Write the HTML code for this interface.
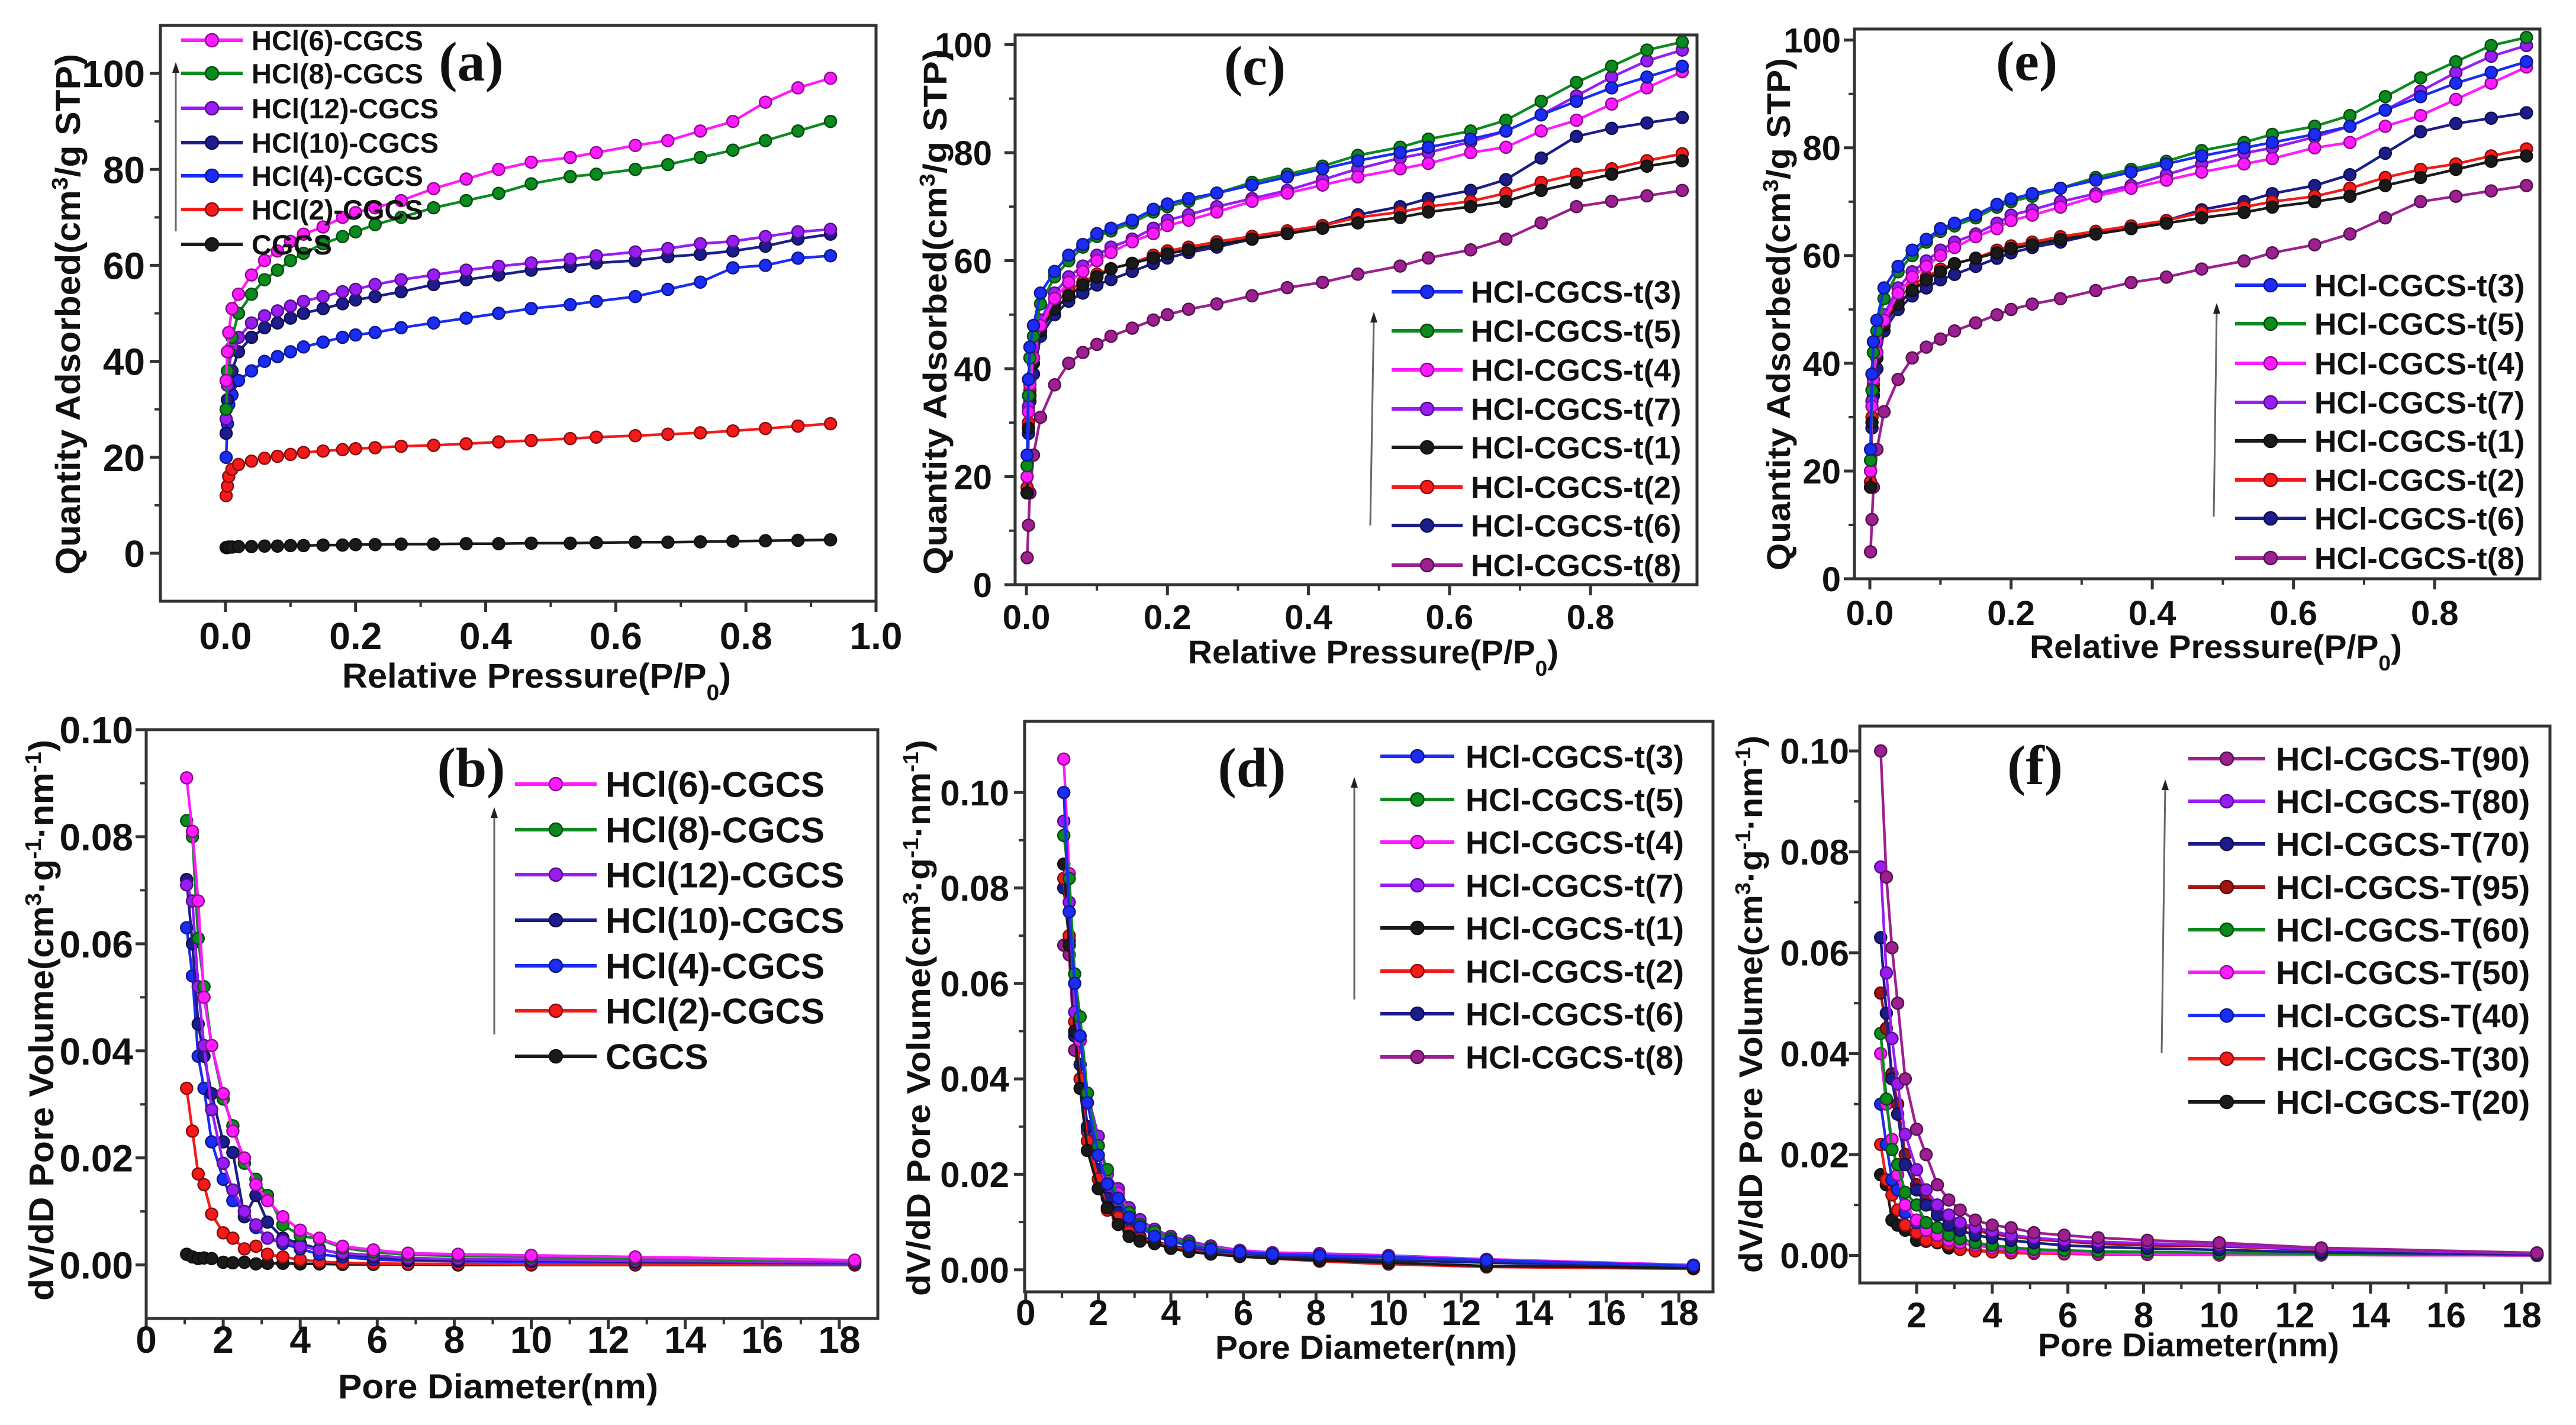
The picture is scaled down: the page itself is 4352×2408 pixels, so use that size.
<!DOCTYPE html>
<html><head><meta charset="utf-8"><style>
html,body{margin:0;padding:0;background:#fff;overflow:hidden;}
svg{display:block;font-family:"Liberation Sans",Arial,sans-serif;}
</style></head><body>
<svg id="fig" xmlns="http://www.w3.org/2000/svg" width="4352" height="2408" viewBox="0 0 4352 2408"></svg>
<script>
// ---------- DATA ----------
const P = [0.001,0.003,0.005,0.01,0.02,0.04,0.06,0.08,0.1,0.12,0.15,0.18,0.2,0.23,0.27,0.32,0.37,0.42,0.47,0.53,0.57,0.63,0.68,0.73,0.78,0.83,0.88,0.93];
const D = [1.05,1.2,1.35,1.5,1.7,2.0,2.25,2.55,2.85,3.15,3.55,4.0,4.5,5.1,5.9,6.8,8.1,10,12.7,18.4];

// panel (a)
const aNames = ["HCl(6)-CGCS","HCl(8)-CGCS","HCl(12)-CGCS","HCl(10)-CGCS","HCl(4)-CGCS","HCl(2)-CGCS","CGCS"];
const aHCl6 = [36,42,46,51,54,58,61,63,65,66.5,68,70,71,72,73.5,76,78,80,81.5,82.5,83.5,85,86,88,90,94,97,99];
const aHCl8 = [30,38,42,45,50,54,57,59,61,62.5,64.5,66,67,68.5,70,72,73.5,75,77,78.5,79,80,81,82.5,84,86,88,90];
const aHCl12 = [28,35,38,43,45,48,49.5,50.5,51.5,52.5,53.5,54.5,55,56,57,58,59,59.8,60.5,61.3,62,62.8,63.5,64.5,65,66,67,67.5];
const aHCl10 = [25,32,35,38,42,45,47,48,49,50,51,52,52.8,53.5,54.5,56,57,58,59,59.8,60.5,61,61.8,62.3,63,64,65.5,66.5];
const aHCl4 = [20,27,31,33,36,38,40,41,42,43,44,45,45.5,46,47,48,49,50,51,51.8,52.5,53.5,55,56.5,59.5,60,61.5,62];
const aHCl2 = [12,14,16,17.5,18.5,19.2,19.8,20.2,20.6,21,21.3,21.6,21.8,22,22.3,22.5,22.8,23.2,23.5,23.9,24.2,24.5,24.8,25.1,25.5,26,26.5,27];
const aCGCS = [1.2,1.2,1.3,1.3,1.4,1.4,1.5,1.5,1.6,1.6,1.7,1.7,1.8,1.8,1.9,1.9,2.0,2.0,2.1,2.1,2.2,2.3,2.3,2.4,2.5,2.6,2.7,2.8];

// panel (b)
const bHCl6 = [.091,.081,.068,.050,.041,.032,.025,.020,.015,.012,.009,.0065,.005,.0035,.0028,.0022,.002,.0018,.0015,.0009];
const bHCl8 = [.083,.080,.061,.052,.041,.031,.026,.019,.016,.013,.0075,.0055,.0048,.0032,.0024,.0019,.0017,.0015,.0012,.0007];
const bHCl12 = [.071,.068,.052,.041,.029,.019,.014,.010,.0075,.005,.0045,.0035,.0028,.0022,.0018,.0013,.0011,.001,.0008,.0005];
const bHCl10 = [.072,.060,.045,.039,.032,.023,.021,.009,.013,.008,.005,.004,.003,.002,.0015,.001,.0009,.0008,.0006,.0004];
const bHCl4 = [.063,.054,.039,.033,.023,.016,.012,.010,.007,.005,.004,.003,.002,.0015,.001,.0008,.0007,.0006,.0005,.0003];
const bHCl2 = [.033,.025,.017,.015,.0095,.006,.005,.003,.0035,.002,.0015,.001,.0006,.0004,.0003,.0002,.0002,.0001,.0001,.0001];
const bCGCS = [.002,.0015,.0012,.0013,.0012,.0005,.0004,.0005,.0002,.0003,.0003,.0002,.0002,.0001,.0001,.0001,0,0,0,0];

// panels (c)/(e)
const tNames = ["HCl-CGCS-t(3)","HCl-CGCS-t(5)","HCl-CGCS-t(4)","HCl-CGCS-t(7)","HCl-CGCS-t(1)","HCl-CGCS-t(2)","HCl-CGCS-t(6)","HCl-CGCS-t(8)"];
const cT3 = [24,38,44,48,54,58,61,63,65,66,67.5,69.5,70.5,71.5,72.5,74,75.5,77,78.5,80,81,82.5,84,87,89.5,92,94,96];
const cT5 = [22,35,42,46,52,57,60,62.5,64.5,65.5,67,69,70,71,72.5,74.5,76,77.5,79.5,81,82.5,84,86,89.5,93,96,99,100.5];
const cT4 = [20,32,37,42,48,53,56,58,60,61.5,63.5,65,66.5,67.5,69,71,72.5,74,75.5,77,78,80,81,84,86,89,92,95];
const cT7 = [20,33,38,44,49,54,57,59,61,62.5,64,66,67.5,68.5,70,71.5,73,75,77,79,80,82,84,87,90.5,94,97,99];
const cT1 = [17,29,35,41,47,51,53.5,55.5,57,58.5,59.5,60.5,61.3,62,63,64,65,66,67,68,69,70,71,73,74.5,76,77.5,78.5];
const cT2 = [18,30,36,42,47,52,54.5,56,57.5,58.5,59.5,61,61.8,62.5,63.5,64.5,65.5,66.5,68,69,70,71,72.5,74.5,76,77,78.5,79.8];
const cT6 = [17,28,34,39,46,50,52.5,54,55.5,56.5,58,59.5,60.5,61.5,62.5,64,65,66.5,68.5,70,71.5,73,75,79,83,84.5,85.5,86.5];
const cT8 = [5,11,17,24,31,37,41,43,44.5,46,47.5,49,50,51,52,53.5,55,56,57.5,59,60.5,62,64,67,70,71,72,73];

// panel (d)
const dT3 = [.100,.075,.060,.049,.035,.024,.018,.015,.011,.009,.007,.006,.005,.0043,.0037,.0033,.003,.0027,.002,.0008];
const dT5 = [.091,.082,.062,.053,.037,.026,.021,.015,.012,.0095,.008,.0065,.0055,.0045,.0038,.0033,.003,.0026,.002,.0008];
const dT4 = [.107,.083,.060,.048,.037,.026,.020,.016,.012,.009,.0075,.0062,.0055,.0046,.004,.0035,.0032,.0029,.0022,.0009];
const dT7 = [.094,.077,.054,.048,.037,.028,.020,.017,.013,.0105,.0085,.007,.006,.005,.0041,.0036,.0034,.003,.0022,.001];
const dT1 = [.085,.068,.050,.038,.025,.017,.013,.0095,.007,.006,.0055,.0045,.0038,.0033,.0028,.0024,.002,.0015,.0008,.0004];
const dT2 = [.082,.070,.052,.040,.027,.019,.0125,.011,.008,.0065,.0058,.0049,.0041,.0035,.0029,.0024,.0018,.0012,.0006,.0002];
const dT6 = [.080,.069,.049,.043,.030,.021,.015,.012,.009,.007,.006,.005,.0045,.0038,.0032,.0028,.0025,.002,.0015,.0006];
const dT8 = [.068,.066,.046,.040,.029,.021,.017,.014,.011,.009,.0075,.0062,.0053,.0045,.0038,.0033,.003,.0026,.0018,.0008];

// panel (f)
const fNames = ["HCl-CGCS-T(90)","HCl-CGCS-T(80)","HCl-CGCS-T(70)","HCl-CGCS-T(95)","HCl-CGCS-T(60)","HCl-CGCS-T(50)","HCl-CGCS-T(40)","HCl-CGCS-T(30)","HCl-CGCS-T(20)"];
const fT90 = [.100,.075,.061,.050,.035,.025,.020,.014,.011,.009,.007,.006,.0055,.0045,.004,.0035,.003,.0025,.0015,.0005];
const fT80 = [.077,.056,.043,.034,.024,.017,.013,.010,.008,.0065,.0055,.0048,.004,.0035,.003,.0027,.0024,.002,.0012,.0004];
const fT70 = [.063,.048,.035,.028,.018,.013,.010,.008,.006,.005,.004,.0035,.003,.0025,.002,.0017,.0014,.0011,.0006,.0002];
const fT95 = [.052,.045,.036,.030,.020,.014,.011,.009,.0075,.006,.005,.0042,.0038,.0032,.0028,.0023,.002,.0018,.0011,.0005];
const fT60 = [.044,.031,.021,.018,.0125,.010,.0065,.0055,.004,.0033,.0025,.002,.0016,.0012,.001,.0008,.0007,.0005,.0003,.0001];
const fT50 = [.040,.030,.023,.016,.010,.007,.005,.004,.003,.0025,.002,.0015,.001,.0007,.0005,.0004,.0003,.0002,.0001,0];
const fT40 = [.030,.022,.015,.013,.0085,.0065,.005,.004,.003,.0025,.002,.0017,.0013,.001,.0008,.0006,.0005,.0004,.0002,.0001];
const fT30 = [.022,.015,.012,.009,.006,.0045,.003,.0027,.0022,.0012,.0009,.0007,.0005,.0004,.0003,.0002,.0002,.0001,.0001,0];
const fT20 = [.016,.014,.007,.006,.005,.003,.0028,.0025,.0015,.0012,.001,.0008,.0006,.0005,.0004,.0003,.0002,.0001,.0001,0];

// tick labels
const tickIsoX = [0.0,0.2,0.4,0.6,0.8,1.0];
const tickIsoXc = [0.0,0.2,0.4,0.6,0.8];
const tickIsoY = [0,20,40,60,80,100];
const tickPoreX = [0,2,4,6,8,10,12,14,16,18];
const tickPoreXf = [2,4,6,8,10,12,14,16,18];
const tickPoreY = [0.00,0.02,0.04,0.06,0.08,0.10];

// ---------- COLOURS ----------
const C = {mag:"#ff1aff",grn:"#0b8a1e",pur:"#9a1cf5",navy:"#1c1c8c",blu:"#1a2cf5",red:"#f51a1a",blk:"#1a1a1a",dmag:"#9c2090",dred:"#a01414"};

// ---------- DRAWING ----------
const NS="http://www.w3.org/2000/svg";
const svg=document.getElementById('fig');
function el(tag,attrs,parent){const e=document.createElementNS(NS,tag);for(const k in attrs)e.setAttribute(k,attrs[k]);(parent||svg).appendChild(e);return e;}
function darker(c){const n=parseInt(c.slice(1),16);const r=(n>>16)*0.55|0,g=((n>>8)&255)*0.55|0,b=(n&255)*0.55|0;return "rgb("+r+","+g+","+b+")";}

function panel(o){
  const g=el('g',{});
  
  
  const sx=v=>o.L+(v-o.x0)/(o.x1-o.x0)*(o.R-o.L);
  const sy=v=>o.B-(v-o.y0)/(o.y1-o.y0)*(o.B-o.T);
  for(let i=o.series.length-1;i>=0;i--){
    const s=o.series[i];
    const sg=el('g',{},g);
    
    
    let d='';
    s.ys.forEach((y,k)=>{d+=(k?'L':'M')+sx(s.xs[k]).toFixed(1)+','+sy(y).toFixed(1);});
    el('path',{d:d,fill:'none',stroke:s.c,'stroke-width':4.5,'stroke-linejoin':'round'},sg);
    s.ys.forEach((y,k)=>{
      const m=el('circle',{cx:sx(s.xs[k]).toFixed(1),cy:sy(y).toFixed(1),r:10,fill:s.c,stroke:darker(s.c),'stroke-width':2.5},sg);
      
      
    });
  }
  const fr=el('rect',{x:o.L,y:o.T,width:o.R-o.L,height:o.B-o.T,fill:'none',stroke:'#333','stroke-width':5},g);
  
  
  o.xt.forEach(v=>{
    const x=sx(v);
    el('line',{x1:x,y1:o.B,x2:x,y2:o.B+18,stroke:'#333','stroke-width':5},g);
    const t=el('text',{x:x,y:o.xly,'text-anchor':'middle','font-size':o.tf,'font-weight':'bold',fill:'#111'},g);
    t.textContent=o.xfmt(v);
    
    
  });
  for(let k=0;k<o.xt.length-1;k++){const x=sx((o.xt[k]+o.xt[k+1])/2);el('line',{x1:x,y1:o.B,x2:x,y2:o.B+10,stroke:'#333','stroke-width':4},g);}
  o.yt.forEach(v=>{
    const y=sy(v);
    el('line',{x1:o.L,y1:y,x2:o.L-18,y2:y,stroke:'#333','stroke-width':5},g);
    const t=el('text',{x:o.ylx,y:y+o.tf*0.36,'text-anchor':'end','font-size':o.tf,'font-weight':'bold',fill:'#111'},g);
    t.textContent=o.yfmt(v);
    
    
  });
  for(let k=0;k<o.yt.length-1;k++){const y=sy((o.yt[k]+o.yt[k+1])/2);el('line',{x1:o.L,y1:y,x2:o.L-10,y2:y,stroke:'#333','stroke-width':4},g);}
  const xt=el('text',{x:(o.xtx1+o.xtx2)/2,y:o.xty,'text-anchor':'middle','font-size':o.atf,'font-weight':'bold',fill:'#111',textLength:o.xtx2-o.xtx1,lengthAdjust:'spacingAndGlyphs'},g);
  xt.innerHTML=o.xtitle;
  
  
  const ycx=o.ytx+o.atf*0.36, ycy=(o.yty1+o.yty2)/2;
  const yt=el('text',{x:ycx,y:ycy,'text-anchor':'middle','font-size':o.atf,'font-weight':'bold',fill:'#111',transform:'rotate(-90 '+ycx+' '+ycy+')',textLength:o.yty2-o.yty1,lengthAdjust:'spacingAndGlyphs'},g);
  yt.innerHTML=o.ytitle;
  
  
  const pl=el('text',{x:o.plx,y:o.ply,'text-anchor':'middle','font-size':94,'font-weight':'bold','font-family':'"Liberation Serif",serif',fill:'#111'},g);
  pl.textContent='('+o.id+')';
  
  
  const ar=el('g',{},g);
  
  
  const ax=o.arx2||o.arx;
  el('line',{x1:o.arx,y1:o.ary1,x2:ax,y2:o.ary2+12,stroke:'#666','stroke-width':3},ar);
  el('path',{d:'M'+(ax-6)+','+(o.ary2+18)+'L'+ax+','+o.ary2+'L'+(ax+6)+','+(o.ary2+18)+'Z',fill:'#222'},ar);
  o.series.forEach((s,i)=>{
    const y=o.lrows[i];
    const lg=el('g',{},g);
    
    
    el('line',{x1:o.lx1,y1:y,x2:o.lx2,y2:y,stroke:s.c,'stroke-width':6},lg);
    el('circle',{cx:(o.lx1+o.lx2)/2,cy:y,r:11,fill:s.c,stroke:darker(s.c),'stroke-width':2.5},lg);
    const t=el('text',{x:o.ltx,y:y+o.lf*0.36,'font-size':o.lf,'font-weight':'bold',fill:'#111'},lg);
    t.textContent=s.n;
  });
}

const f1=v=>v.toFixed(1), f0=v=>String(v), f2=v=>v.toFixed(2);
const isoY='Quantity Adsorbed(cm<tspan baseline-shift="super" font-size="0.65em">3</tspan>/g STP)';
const isoX='Relative Pressure(P/P<tspan baseline-shift="sub" font-size="0.65em">0</tspan>)';
const poreY='dV/dD Pore Volume(cm<tspan baseline-shift="super" font-size="0.65em">3</tspan>·g<tspan baseline-shift="super" font-size="0.65em">-1</tspan>·nm<tspan baseline-shift="super" font-size="0.65em">-1</tspan>)';
const poreX='Pore Diameter(nm)';

const serA=[[aHCl6,C.mag],[aHCl8,C.grn],[aHCl12,C.pur],[aHCl10,C.navy],[aHCl4,C.blu],[aHCl2,C.red],[aCGCS,C.blk]].map((p,i)=>({n:aNames[i],c:p[1],xs:P,ys:p[0]}));
const serB=[[bHCl6,C.mag],[bHCl8,C.grn],[bHCl12,C.pur],[bHCl10,C.navy],[bHCl4,C.blu],[bHCl2,C.red],[bCGCS,C.blk]].map((p,i)=>({n:aNames[i],c:p[1],xs:D,ys:p[0]}));
const tCols=[C.blu,C.grn,C.mag,C.pur,C.blk,C.red,C.navy,C.dmag];
const serC=[cT3,cT5,cT4,cT7,cT1,cT2,cT6,cT8].map((y,i)=>({n:tNames[i],c:tCols[i],xs:P,ys:y}));
const serD=[dT3,dT5,dT4,dT7,dT1,dT2,dT6,dT8].map((y,i)=>({n:tNames[i],c:tCols[i],xs:D,ys:y}));
const fCols=[C.dmag,C.pur,C.navy,C.dred,C.grn,C.mag,C.blu,C.red,C.blk];
const serF=[fT90,fT80,fT70,fT95,fT60,fT50,fT40,fT30,fT20].map((y,i)=>({n:fNames[i],c:fCols[i],xs:D,ys:y}));

panel({id:'a',L:271,R:1480,T:43,B:1016,x0:-0.1,x1:1.0,y0:-10,y1:110,xt:tickIsoX,yt:tickIsoY,xfmt:f1,yfmt:f0,tf:64,xly:1097,ylx:245,
  atf:58,xtitle:isoX,xtx1:578,xtx2:1235,xty:1162,ytitle:isoY,ytx:114,yty1:91,yty2:971,plx:796,ply:136,arx:297,ary1:391,ary2:105,
  series:serA,lx1:306,lx2:410,ltx:425,lf:47,lrows:[68,124,183,241,297,354,413]});
panel({id:'b',L:247,R:1483,T:1233,B:2228,x0:0,x1:19,y0:-0.01,y1:0.10,xt:tickPoreX,yt:tickPoreY,xfmt:f0,yfmt:f2,tf:64,xly:2286,ylx:225,
  atf:58,xtitle:poreX,xtx1:571,xtx2:1112,xty:2363,ytitle:poreY,ytx:69,yty1:1250,yty2:2198,plx:796,ply:1329,arx:835,ary1:1748,ary2:1364,
  series:serB,lx1:870,lx2:1008,ltx:1023,lf:60,lrows:[1325,1402,1478,1555,1632,1708,1785]});
panel({id:'c',L:1715,R:2867,T:59,B:988,x0:-0.016,x1:0.951,y0:0,y1:101.8,xt:tickIsoXc,yt:tickIsoY,xfmt:f1,yfmt:f0,tf:58,xly:1063,ylx:1676,
  atf:56,xtitle:isoX,xtx1:2007,xtx2:2633,xty:1121,ytitle:isoY,ytx:1579,yty1:83,yty2:971,plx:2120,ply:143,arx:2315,arx2:2321,ary1:888,ary2:527,
  series:serC,lx1:2351,lx2:2471,ltx:2485,lf:52,lrows:[493,559,625,691,756,823,888,955]});
panel({id:'e',L:3133,R:4291,T:49,B:978,x0:-0.0218,x1:0.949,y0:0,y1:102.06,xt:tickIsoXc,yt:tickIsoY,xfmt:f1,yfmt:f0,tf:58,xly:1056,ylx:3110,
  atf:56,xtitle:isoX,xtx1:3429,xtx2:4058,xty:1112,ytitle:isoY,ytx:3004,yty1:98,yty2:964,plx:3424,ply:135,arx:3740,arx2:3745,ary1:873,ary2:512,
  series:serC,lx1:3776,lx2:3896,ltx:3910,lf:52,lrows:[482,547,614,680,745,811,876,943]});
panel({id:'d',L:1731,R:2894,T:1219,B:2183,x0:-0.03,x1:18.94,y0:-0.00462,y1:0.1149,xt:tickPoreX,yt:tickPoreY,xfmt:f0,yfmt:f2,tf:60,xly:2239,ylx:1705,
  atf:56,xtitle:poreX,xtx1:2053,xtx2:2563,xty:2296,ytitle:poreY,ytx:1551,yty1:1250,yty2:2190,plx:2115,ply:1329,arx:2288,ary1:1689,ary2:1313,
  series:serD,lx1:2332,lx2:2457,ltx:2476,lf:54,lrows:[1278,1351,1423,1496,1568,1641,1713,1786]});
panel({id:'f',L:3142,R:4308,T:1227,B:2168,x0:0.498,x1:18.745,y0:-0.00546,y1:0.10492,xt:tickPoreXf,yt:tickPoreY,xfmt:f0,yfmt:f2,tf:60,xly:2243,ylx:3124,
  atf:56,xtitle:poreX,xtx1:3443,xtx2:3952,xty:2292,ytitle:poreY,ytx:2957,yty1:1243,yty2:2151,plx:3438,ply:1325,arx:3652,arx2:3658,ary1:1779,ary2:1317,
  series:serF,lx1:3697,lx2:3827,ltx:3845,lf:56,lrows:[1282,1354,1426,1499,1571,1643,1716,1789,1862]});
</script>
</body></html>
